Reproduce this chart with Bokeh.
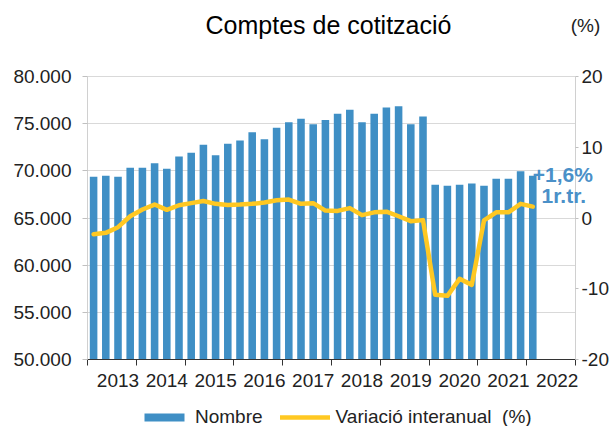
from bokeh.plotting import figure
from bokeh.models import Range1d, LinearAxis, FixedTicker, Legend, LegendItem, Label, ColumnDataSource, Grid
from bokeh.embed import file_html
from bokeh.resources import INLINE

# Quarterly data, 2013 Q1 .. 2022 Q1
years = [2013, 2014, 2015, 2016, 2017, 2018, 2019, 2020, 2021, 2022]
quarter_index = list(range(37))
nombre = [69370, 69470, 69370, 70320, 70320, 70810, 70215, 71520,
          71910, 72760, 71660, 72860, 73210, 74100, 73350, 74560,
          75160, 75510, 74940, 75400, 76040, 76470, 75160, 76040,
          76710, 76850, 74940, 75760, 68520, 68410, 68520, 68660,
          68410, 69150, 69150, 69960, 69470]
variacio = [-2.3, -2.1, -1.3, 0.25, 1.2, 1.9, 1.15, 1.8,
            2.1, 2.4, 2.0, 1.85, 1.9, 2.0, 2.2, 2.5,
            2.6, 2.0, 2.1, 1.05, 1.0, 1.4, 0.4, 0.8,
            0.9, 0.25, -0.45, -0.3, -10.85, -11.0, -8.6, -9.45,
            -0.35, 0.8, 0.8, 2.0, 1.6]
left_ticks = [50000, 55000, 60000, 65000, 70000, 75000, 80000]
left_labels = ["50.000", "55.000", "60.000", "65.000", "70.000", "75.000", "80.000"]
right_ticks = [-20, -10, 0, 10, 20]
right_labels = ["-20", "-10", "0", "10", "20"]
title_text = "Comptes de cotització"
annot_value = "+1,6%"
annot_period = "1r.tr."

FONT = "Liberation Sans"
BAR = "#3f8fc5"
LINE = "#ffc822"
TXT = "#222222"
FS = "19px"

W, H = 609, 426
# plotting area in canvas pixels (frame covers whole canvas; axes are pinned)
L, R, T, B = 87, 575, 76, 359
x0, x1 = -0.5, 39.5
y0, y1 = 50000, 80000
p0, p1 = -20, 20
xs = (x1 - x0) / (R - L)
ys = (y1 - y0) / (B - T)
ps = (p1 - p0) / (B - T)

src = ColumnDataSource(dict(x=quarter_index, n=nombre, v=variacio))

p = figure(width=W, height=H, output_backend="svg", toolbar_location=None,
           x_range=Range1d(x0 - L * xs, x1 + (W - R) * xs),
           y_range=Range1d(y0 - (H - B) * ys, y1 + T * ys),
           min_border_left=0, min_border_right=0, min_border_top=0,
           min_border_bottom=0)
p.extra_y_ranges = {"pct": Range1d(p0 - (H - B) * ps, p1 + T * ps)}
p.outline_line_color = None
p.background_fill_color = "white"
p.border_fill_color = "white"
p.title.visible = False

# grid
p.xgrid.visible = False
p.ygrid.ticker = FixedTicker(ticks=left_ticks)
p.ygrid.grid_line_color = "#d9d9d9"
p.ygrid.grid_line_width = 1
p.ygrid.bounds = (y0, y1)
if "cross_bounds" in Grid.properties():
    p.ygrid.cross_bounds = (x0, x1)

# left axis
ya = p.yaxis[0]
ya.fixed_location = x0
ya.bounds = (y0, y1)
ya.ticker = FixedTicker(ticks=left_ticks)
ya.major_label_overrides = {t: l for t, l in zip(left_ticks, left_labels)}
ya.major_label_text_font = FONT
ya.major_label_text_font_size = FS
ya.major_label_text_color = TXT
ya.axis_line_color = "#d0d0d0"
ya.major_tick_line_color = "#c0c0c0"
ya.major_tick_out = 5
ya.major_tick_in = 0
ya.minor_tick_line_color = None
ya.major_label_standoff = 11

# bottom axis
xa = p.xaxis[0]
xa.fixed_location = y0
xa.bounds = (x0, x1)
label_pos = [4 * i + 2 for i in range(len(years))]
bounds = [4 * i - 0.5 for i in range(len(years) + 1)]
xa.ticker = FixedTicker(ticks=label_pos, minor_ticks=bounds)
xa.major_label_overrides = {pos: str(y) for pos, y in zip(label_pos, years)}
xa.major_tick_line_color = None
xa.major_tick_out = 0
xa.major_tick_in = 0
xa.minor_tick_line_color = "#333333"
xa.minor_tick_out = 6
xa.minor_tick_in = 0
xa.axis_line_color = "#333333"
xa.major_label_text_font = FONT
xa.major_label_text_font_size = FS
xa.major_label_text_color = TXT
xa.major_label_standoff = 8

# right axis
ra = LinearAxis(y_range_name="pct", ticker=FixedTicker(ticks=right_ticks))
ra.fixed_location = x1
ra.bounds = (p0, p1)
ra.major_label_overrides = {t: l for t, l in zip(right_ticks, right_labels)}
ra.axis_line_color = "#d0d0d0"
ra.major_tick_line_color = "#c0c0c0"
ra.major_tick_out = 3
ra.major_tick_in = 0
ra.minor_tick_line_color = None
ra.major_label_standoff = 3
ra.major_label_text_font = FONT
ra.major_label_text_font_size = FS
ra.major_label_text_color = TXT
p.add_layout(ra, "right")

bars = p.vbar(x="x", top="n", bottom=y0, width=0.62, source=src,
              fill_color=BAR, line_color=None)
line = p.line(x="x", y="v", source=src, y_range_name="pct",
              line_color=LINE, line_width=4.5, line_join="round", line_cap="round")

# title and labels
p.add_layout(Label(x=(x0 + x1) / 2, y=y1, text=title_text, x_offset=-3, y_offset=52,
                   text_align="center", text_baseline="middle",
                   text_font=FONT, text_font_size="25px", text_color="black"))
p.add_layout(Label(x=x1, y=p1, y_range_name="pct", text="(%)",
                   x_offset=10, y_offset=51, text_align="center", text_baseline="middle",
                   text_font=FONT, text_font_size=FS, text_color=TXT))

last_x = quarter_index[-1]
last_v = variacio[-1]
p.add_layout(Label(x=last_x, y=last_v, y_range_name="pct", text=annot_value,
                   x_offset=30, y_offset=32, text_align="center", text_baseline="middle",
                   text_font=FONT, text_font_size="21px", text_font_style="bold",
                   text_color="#4a90c8"))
p.add_layout(Label(x=last_x, y=last_v, y_range_name="pct", text=annot_period,
                   x_offset=31, y_offset=11, text_align="center", text_baseline="middle",
                   text_font=FONT, text_font_size="21px", text_font_style="bold",
                   text_color="#4a90c8"))

legend = Legend(items=[LegendItem(label="Nombre", renderers=[bars]),
                       LegendItem(label="Variació interanual  (%)", renderers=[line])],
                orientation="horizontal", location=(139, -2),
                glyph_width=50, glyph_height=10, label_standoff=6, spacing=17,
                padding=0, margin=0, border_line_color=None, background_fill_alpha=0,
                label_text_font=FONT, label_text_font_size=FS,
                label_text_color=TXT)
p.add_layout(legend, "center")

open("out.html", "w").write(file_html(p, INLINE))
